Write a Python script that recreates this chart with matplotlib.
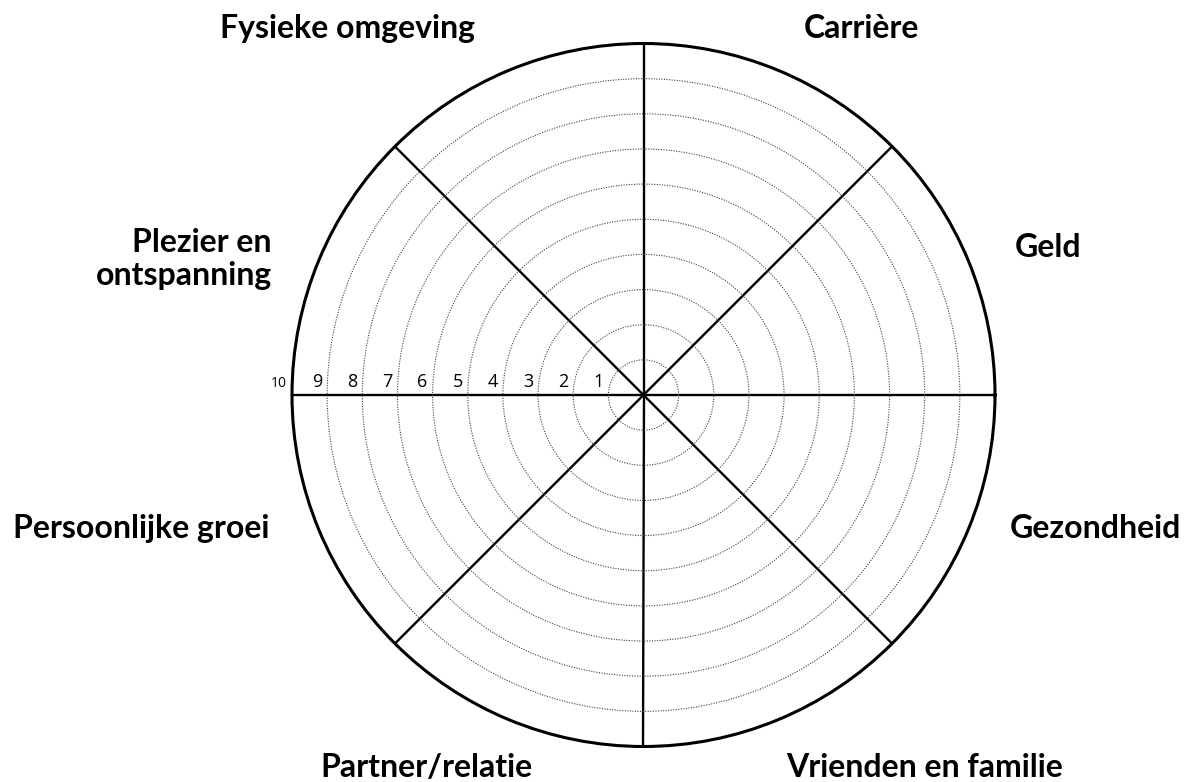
import numpy as np
import matplotlib
matplotlib.use("Agg")
import matplotlib.pyplot as plt

# ---- data ----
categories = ["Carrière", "Geld", "Gezondheid", "Vrienden en familie",
              "Partner/relatie", "Persoonlijke groei", "Plezier en\nontspanning",
              "Fysieke omgeving"]
ring_values = list(range(1, 11))
ring_labels = [str(v) for v in ring_values]
max_score = 10

# ---- layout / style (figure pixel positions of the category labels) ----
W, H = 1189, 782
label_pos = {  # (x, baseline y, ha)
    "Carrière": (861, 38, "center"),
    "Geld": (1048, 257, "center"),
    "Gezondheid": (1010, 538, "left"),
    "Vrienden en familie": (925, 777, "center"),
    "Partner/relatie": (426, 777, "center"),
    "Persoonlijke groei": (13, 538, "left"),
    "Plezier en\nontspanning": (272, 285, "right"),
    "Fysieke omgeving": (348, 38, "center"),
}

fig = plt.figure(figsize=(W / 100, H / 100), dpi=100)
fig.patch.set_facecolor("white")

cx, cy, R = 643.5, 395.0, 351.5
ax = fig.add_axes([(cx - R) / W, (H - cy - R) / H, 2 * R / W, 2 * R / H],
                  projection="polar")
ax.set_theta_zero_location("E")
ax.set_theta_direction(1)
ax.set_ylim(0, max_score)

n = len(categories)
ax.set_xticks(np.deg2rad(np.arange(0, 360, 360 / n)))
ax.set_xticklabels([])
ax.set_yticks(ring_values[:-1])
ax.set_yticklabels([])
ax.tick_params(length=0)

ax.xaxis.grid(True, color="black", linewidth=1.7, linestyle="-")
ax.yaxis.grid(True, color="0.25", linewidth=0.8, linestyle=(0, (1, 1.3)))
ax.spines["polar"].set_linewidth(2.2)
ax.spines["polar"].set_color("black")
ax.set_facecolor("white")

# ring number labels along the left horizontal spoke
for v, lab in zip(ring_values, ring_labels):
    ax.annotate(lab, xy=(np.pi, v), xytext=(-5, 8), textcoords="offset pixels",
                ha="right", va="baseline", fontsize=10 if v == 10 else 13,
                family="Open Sans", color="black", annotation_clip=False)

# category labels
for cat in categories:
    x, y, ha = label_pos[cat]
    fig.text(x / W, 1 - y / H, cat, ha=ha, va="baseline", multialignment=ha,
             fontsize=23, fontweight="bold", family="Lato", color="black",
             linespacing=1.15)

fig.savefig("out.png", dpi=100, facecolor="white")
